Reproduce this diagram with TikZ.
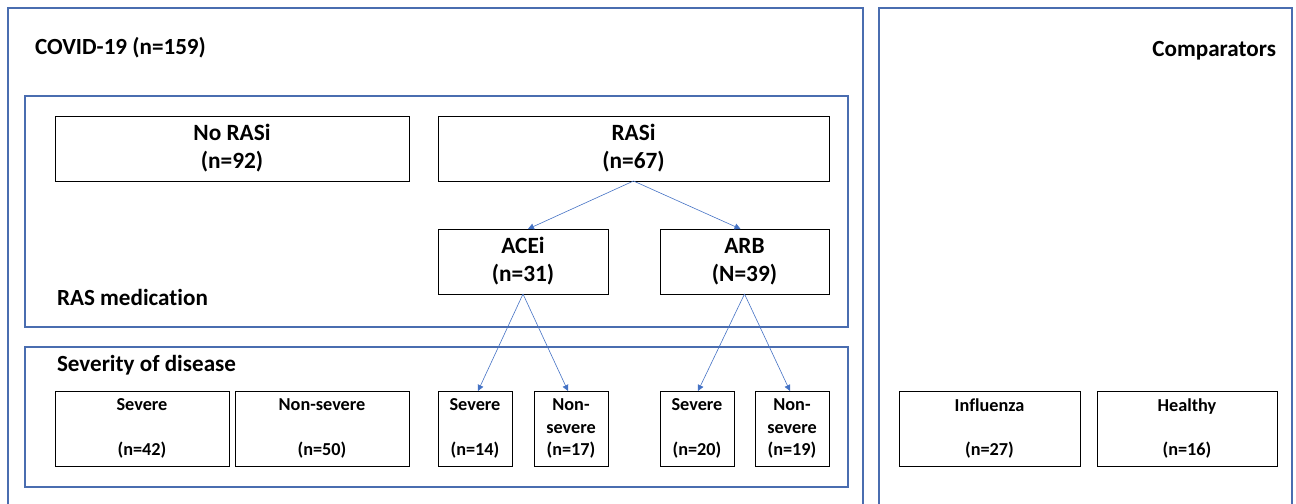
\documentclass[tikz,border=0pt]{standalone}
\usepackage{fontspec}
\setmainfont{Carlito}[Ligatures = NoCommon]
\usetikzlibrary{positioning, arrows.meta, shadows}

\definecolor{frameblue}{HTML}{4A6DB0}
\definecolor{arrowblue}{HTML}{4472C4}

\begin{document}
\begin{tikzpicture}
[
    x = 1bp, y = -1bp,
    every node/.style = {inner sep = 0pt, outer sep = 0pt},
    FrameStyle/.style = {draw = frameblue, line width = 1.3bp},
    LabelStyle/.style = {font = \bfseries\fontsize{23.2}{27}\selectfont},
    GroupStyle/.style = {draw = black, line width = 0.9bp, fill = white, align = center,
                         drop shadow = {shadow xshift = 1.2bp, shadow yshift = -1.2bp, opacity = 0.25}},
    BigBox/.style = {GroupStyle, minimum height = 65bp,
                     font = \bfseries\fontsize{23.4}{28}\selectfont},
    SmallBox/.style = {GroupStyle, minimum height = 75bp,
                       font = \bfseries\fontsize{18.3}{22.5}\selectfont},
    ArrowStyle/.style = {draw = arrowblue, line width = 0.6bp,
                         -{Triangle[width = 6bp, length = 6bp]}}
  ]
  \useasboundingbox (0,0) rectangle (1296,504);

  % frames
  \draw[FrameStyle] (8,8) rectangle (863,530);
  \draw[FrameStyle] (879,8) rectangle (1292,530);
  \draw[FrameStyle] (25,96) rectangle (848,327);
  \draw[FrameStyle] (25,347) rectangle (848,487);

  \node[LabelStyle, anchor = base west](covid) at (35,55) {COVID-19 (n=159)};
  \node[LabelStyle, anchor = base east](comp) at (1276,57) {Comparators};
  \node[LabelStyle, anchor = base west](rasmed) at (57,306) {RAS medication};
  \node[LabelStyle, anchor = base west](sevdis) at (57,372) {Severity of disease};

  % RAS medication
  \node[BigBox, minimum width = 354bp](norasi) at (232,148.5) {No RASi\\(n=92)};
  \node[BigBox, minimum width = 391bp, right = 29bp of norasi](rasi) {RASi\\(n=67)};
  \node[BigBox, minimum width = 170bp](acei) at (523,261.5) {ACEi\\(n=31)};
  \node[BigBox, minimum width = 169bp, right = 52bp of acei](arb) {ARB\\(N=39)};

  % severity
  \node[SmallBox, minimum width = 174bp](sev42) at (142,428.5) {Severe\\~\\(n=42)};
  \node[SmallBox, minimum width = 174bp, right = 6bp of sev42](non50) {Non-severe\\~\\(n=50)};
  \node[SmallBox, minimum width = 74bp](sev14) at (475,428.5) {Severe\\~\\(n=14)};
  \node[SmallBox, minimum width = 74bp, right = 22bp of sev14](non17) {Non-\\severe\\(n=17)};
  \node[SmallBox, minimum width = 74bp](sev20) at (697,428.5) {Severe\\~\\(n=20)};
  \node[SmallBox, minimum width = 74bp, right = 21bp of sev20](non19) {Non-\\severe\\(n=19)};

  % comparators
  \node[SmallBox, minimum width = 181bp](flu) at (989.5,428.5) {Influenza\\~\\(n=27)};
  \node[SmallBox, minimum width = 180bp, right = 17bp of flu](healthy) {Healthy\\~\\(n=16)};

  \draw[ArrowStyle] (rasi.south) -- ([xshift = 5bp]acei.north);
  \draw[ArrowStyle] (rasi.south) -- ([xshift = -4bp]arb.north);
  \draw[ArrowStyle] (acei.south) -- ([xshift = 3bp]sev14.north);
  \draw[ArrowStyle] (acei.south) -- ([xshift = -3bp]non17.north);
  \draw[ArrowStyle] (arb.south) -- ([xshift = 1bp]sev20.north);
  \draw[ArrowStyle] (arb.south) -- ([xshift = -2bp]non19.north);

\end{tikzpicture}
\end{document}
